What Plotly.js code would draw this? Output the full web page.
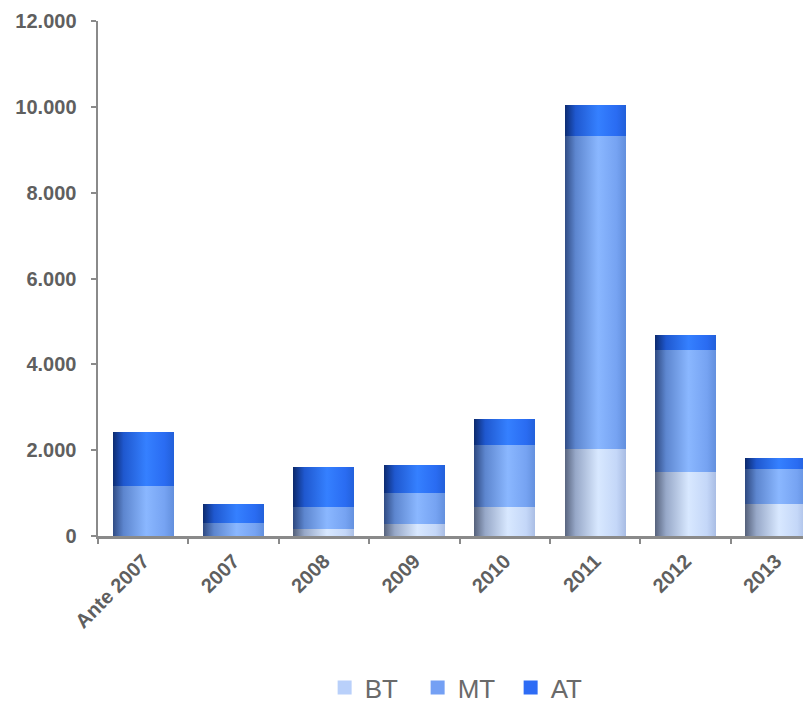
<!DOCTYPE html>
<html>
<head>
<meta charset="utf-8">
<script src="https://cdn.plot.ly/plotly-3.0.1.min.js"></script>
<style>
  html, body { margin: 0; padding: 0; background: #fff; }
  #chart { width: 803px; height: 703px; }
</style>
</head>
<body>
<div id="chart"></div>
<script>
// Categories and stacked series (units)
const categories = ['Ante 2007', '2007', '2008', '2009', '2010', '2011', '2012', '2013'];
const bt = [0, 0, 160, 270, 680, 2030, 1500, 750];
const mt = [1170, 300, 515, 740, 1450, 7300, 2840, 800];
const at = [1250, 450, 940, 650, 600, 710, 345, 270];
const seriesNames = ['BT', 'MT', 'AT'];

// Flat colours for legend swatches, gradient stops for the bars themselves
const flatColors = ['#b9d0fa', '#74a0f4', '#2e6cf5'];
const gradients = [
  [['0%', '#56627c'], ['18%', '#97a8c8'], ['55%', '#d8e8ff'], ['85%', '#c4d7f8'], ['100%', '#a9bde4']],
  [['0%', '#2f4a82'], ['18%', '#5d86cf'], ['55%', '#8ab7ff'], ['85%', '#76a3f2'], ['100%', '#6390de']],
  [['0%', '#0c2a6e'], ['18%', '#1f58cf'], ['55%', '#3580ff'], ['85%', '#2a6cf2'], ['100%', '#2260da']]
];

const axisGrey = '#8a8a8a';
const textGrey = '#5f5f5f';
const fontFamily = 'Arial, "Liberation Sans", sans-serif';

const values = [bt, mt, at];
const traces = values.map((v, i) => ({
  type: 'bar',
  name: seriesNames[i],
  x: categories,
  y: v,
  marker: { color: flatColors[i], line: { width: 0 } },
  hoverinfo: 'x+y+name'
}));

const layout = {
  width: 803,
  height: 703,
  margin: { l: 98, r: 0, t: 21, b: 167 },
  paper_bgcolor: '#ffffff',
  plot_bgcolor: '#ffffff',
  barmode: 'stack',
  bargap: 0.325,
  separators: ',.',
  font: { family: fontFamily, color: textGrey },
  xaxis: {
    type: 'category',
    range: [-0.5, 7.3],
    showgrid: false,
    zeroline: false,
    showline: true,
    linecolor: axisGrey,
    linewidth: 2.5,
    ticks: 'outside',
    tickson: 'boundaries',
    ticklen: 5,
    tickwidth: 2,
    tickcolor: axisGrey,
    tickangle: -45,
    ticklabelstandoff: 3,
    tickfont: { family: fontFamily, size: 20, color: textGrey, weight: 'bold' }
  },
  yaxis: {
    range: [0, 12000],
    dtick: 2000,
    tickformat: ',d',
    showgrid: false,
    zeroline: false,
    showline: true,
    linecolor: axisGrey,
    linewidth: 2.5,
    ticks: 'outside',
    ticklen: 5,
    tickwidth: 2,
    tickcolor: axisGrey,
    ticklabelstandoff: 10,
    tickfont: { family: fontFamily, size: 20, color: textGrey, weight: 'bold' }
  },
  legend: {
    orientation: 'h',
    xref: 'container',
    yref: 'container',
    x: 0.578,
    xanchor: 'center',
    y: 0.022,
    yanchor: 'middle',
    traceorder: 'normal',
    entrywidth: 48,
    font: { family: fontFamily, size: 26, color: '#6a6a6a' }
  },
  showlegend: true
};

// Replace the flat bar fills with horizontal gradients for a shaded look
function applyGradients(gd) {
  const svg = gd.querySelector('svg.main-svg');
  const ns = 'http://www.w3.org/2000/svg';
  let defs = svg.querySelector('defs');
  if (!defs) { defs = document.createElementNS(ns, 'defs'); svg.insertBefore(defs, svg.firstChild); }
  gradients.forEach((stops, i) => {
    const g = document.createElementNS(ns, 'linearGradient');
    g.setAttribute('id', 'barShade' + i);
    g.setAttribute('x1', '0'); g.setAttribute('y1', '0');
    g.setAttribute('x2', '1'); g.setAttribute('y2', '0');
    stops.forEach(([off, col]) => {
      const s = document.createElementNS(ns, 'stop');
      s.setAttribute('offset', off);
      s.setAttribute('stop-color', col);
      g.appendChild(s);
    });
    defs.appendChild(g);
  });
  const groups = gd.querySelectorAll('.barlayer .trace');
  groups.forEach((grp, i) => {
    grp.querySelectorAll('.point path').forEach(p => {
      p.style.fill = 'url(#barShade' + i + ')';
    });
  });
  // Slightly larger square swatches in the legend
  gd.querySelectorAll('.legend .legendpoints path').forEach(p => {
    p.setAttribute('d', 'M7,7H-7V-7H7Z');
  });
}

const gd = document.getElementById('chart');
Plotly.newPlot(gd, traces, layout, { displayModeBar: false, staticPlot: true })
  .then(applyGradients);
</script>
</body>
</html>
